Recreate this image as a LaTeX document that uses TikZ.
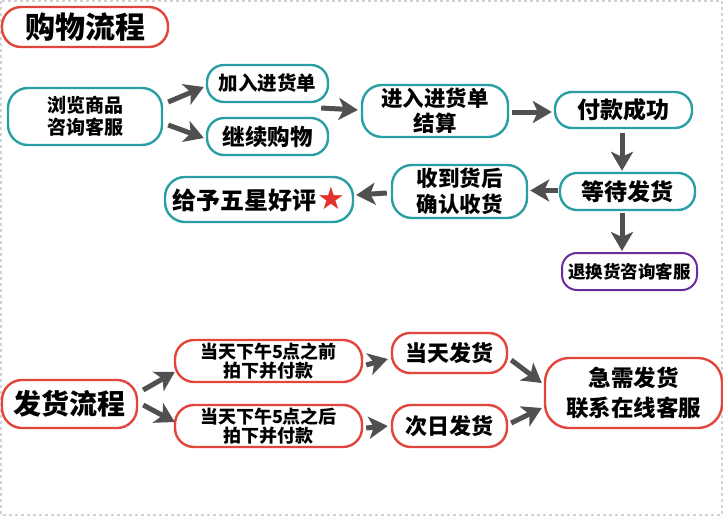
\documentclass[tikz,border=0pt]{standalone}
\usepackage{fontspec}
\setmainfont{Noto Sans CJK SC}
\newfontfamily\symfont{DejaVu Sans}
\usetikzlibrary{arrows.meta,calc}
\definecolor{tealc}{HTML}{2A9FA3}
\definecolor{redc}{HTML}{E2453A}
\definecolor{purc}{HTML}{6A2D9E}
\definecolor{arrc}{HTML}{505050}
\definecolor{starc}{HTML}{E3302A}
\tikzset{
  box/.style={draw, line width=2.4pt, rounded corners=17pt, fill=white, align=center, inner sep=0pt, font=\bfseries},
  tbox/.style={box, draw=tealc},
  rbox/.style={box, draw=redc},
  pbox/.style={box, draw=purc, line width=2pt, rounded corners=15pt},
  fs/.style 2 args={font=\bfseries\fontsize{#1}{#2}\selectfont},
  arr/.style={draw=arrc, line width=5pt, -{Stealth[length=19pt,width=22pt,inset=5pt]}},
}
\begin{document}
\begin{tikzpicture}[x=1pt,y=-1pt]
\useasboundingbox (0,0) rectangle (723,517);
\draw[gray!35, line width=1.5pt, dashed] (1,1) rectangle (722,515);

% shopping flow
\node[rbox, minimum width=166pt, minimum height=40pt, rounded corners=19pt, fs={30}{30}] (title) at (85,27) {购物流程};
\node[tbox, minimum width=154pt, minimum height=57pt, rounded corners=20pt, fs={19}{22}] (browse) at (85,116.5) {浏览商品\\咨询客服};
\node[tbox, minimum width=121pt, minimum height=37pt, fs={19.5}{22}] (add) at (267.5,83.5) {加入进货单};
\node[tbox, minimum width=121pt, minimum height=37pt, fs={22.5}{24}] (cont) at (267.5,136.5) {继续购物};
\node[tbox, minimum width=146pt, minimum height=52pt, rounded corners=20pt, fs={21.5}{25}] (enter) at (435,111) {进入进货单\\结算};
\node[tbox, minimum width=137pt, minimum height=36pt, fs={23}{24}] (pay) at (623.5,110) {付款成功};
\node[tbox, minimum width=135pt, minimum height=37pt, fs={23}{24}] (wait) at (627.5,191.5) {等待发货};
\node[tbox, minimum width=135pt, minimum height=53pt, rounded corners=20pt, fs={21.5}{26}] (recv) at (459.5,191.5) {收到货后\\确认收货};
\node[tbox, minimum width=188pt, minimum height=45pt, rounded corners=20pt, fs={24}{26}] (five) at (259,199.5) {给予五星好评\hspace{1pt}{\symfont\fontsize{31}{31}\selectfont\textcolor{starc}{★}}};
\node[pbox, minimum width=135pt, minimum height=37pt, fs={17.5}{20}] (ret) at (629.5,271.5) {退换货咨询客服};

\draw[arr] ($(browse.east)+(5,-14.5)$) -- ($(add.west)+(-2,3.5)$);
\draw[arr] ($(browse.east)+(5,8.5)$) -- ($(cont.west)+(-2,1.5)$);
\draw[arr] ($(add.east)!0.5!(cont.east)+(-8,-2)$) -- ($(enter.west)+(-3,-1)$);
\draw[arr] ($(enter.east)+(3,1)$) -- ($(pay.west)+(-2,2)$);
\draw[arr] ($(pay.south)+(-1.5,4)$) -- ($(wait.north)+(-5.5,-1)$);
\draw[arr] ($(wait.west)+(-1,-1)$) -- ($(recv.east)+(2,-1)$);
\draw[arr] ($(recv.west)+(-4,1.5)$) -- ($(five.east)+(2,-4.5)$);
\draw[arr] ($(wait.south)+(-5.5,2)$) -- ($(ret.north)+(-7.5,-1)$);

% shipping flow
\node[rbox, minimum width=135pt, minimum height=48pt, rounded corners=20pt, fs={28}{30}] (ship) at (69.5,404) {发货流程};
\node[rbox, minimum width=187pt, minimum height=42pt, rounded corners=19pt, fs={18}{19}] (before) at (268.5,361) {当天下午5点之前\\拍下并付款};
\node[rbox, minimum width=187pt, minimum height=42pt, rounded corners=19pt, fs={18}{19}] (after) at (268.5,426) {当天下午5点之后\\拍下并付款};
\node[rbox, minimum width=115pt, minimum height=40pt, rounded corners=18pt, fs={22}{24}] (today) at (449.5,353) {当天发货};
\node[rbox, minimum width=115pt, minimum height=42pt, rounded corners=19pt, fs={22}{24}] (next) at (449.5,426) {次日发货};
\node[rbox, minimum width=177pt, minimum height=70pt, rounded corners=24pt, fs={22.5}{30}] (urgent) at (633.5,393) {急需发货\\联系在线客服};

\draw[arr] ($(ship.east)+(5,-14)$) -- ($(before.west)+(1,11)$);
\draw[arr] ($(ship.east)+(5,1)$) -- ($(after.west)+(1,-4)$);
\draw[arr] ($(before.east)+(3,4)$) -- ($(today.west)+(-3,6)$);
\draw[arr] ($(after.east)+(3,2)$) -- ($(next.west)+(-3,0)$);
\draw[arr] ($(today.east)+(3,7)$) -- ($(urgent.west)+(-2,-10)$);
\draw[arr] ($(next.east)+(3,-3)$) -- ($(urgent.west)+(-2,15)$);
\end{tikzpicture}
\end{document}
